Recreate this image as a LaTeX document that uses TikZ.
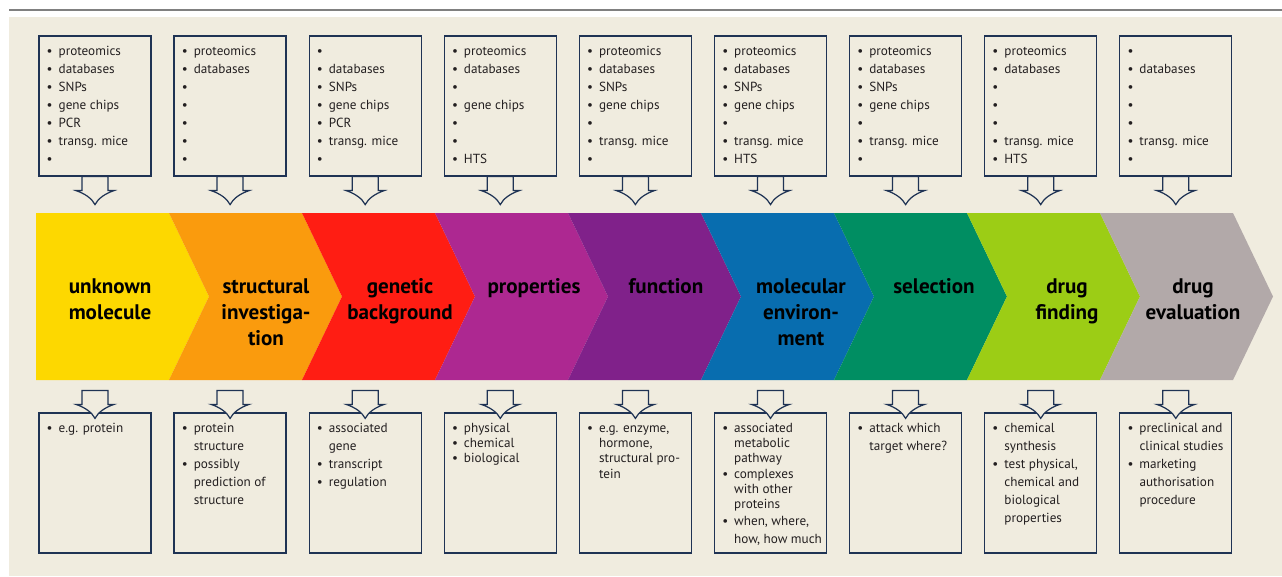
\documentclass[tikz,border=0pt]{standalone}
\usepackage{fontspec}
\setmainfont{PT Sans}
\usetikzlibrary{calc}
\definecolor{bgbeige}{HTML}{F0ECDF}
\definecolor{boxline}{HTML}{1F3354}
\definecolor{textgray}{HTML}{231F20}
\definecolor{cyellow}{HTML}{FDD800}
\definecolor{corange}{HTML}{FA9B0D}
\definecolor{cred}{HTML}{FF1D13}
\definecolor{cmagenta}{HTML}{AD2891}
\definecolor{cpurple}{HTML}{80218A}
\definecolor{cblue}{HTML}{086DAF}
\definecolor{cgreen}{HTML}{008E62}
\definecolor{clime}{HTML}{9CCD15}
\definecolor{cgray}{HTML}{B2A9A9}
\newcommand\bu{\makebox[6.8pt][l]{\textbullet}}
\newcommand\ind{\hspace*{6.8pt}}
\begin{document}
\begin{tikzpicture}[x=0.02cm,y=-0.02cm,
  infobox/.style={draw=boxline,line width=0.7pt,minimum width=2.24cm,minimum height=2.8cm,inner sep=0},
  infotext/.style={anchor=north west,inner sep=0,align=left,text=textgray,font=\fontsize{7.5}{10.2}\selectfont},
  tighttext/.style={infotext,font=\fontsize{7.5}{8.6}\selectfont},
  steptext/.style={anchor=north,inner sep=0,align=center,text=black,font=\fontsize{12}{14.8}\selectfont\bfseries},
  blockarrow/.pic={\filldraw[draw=boxline,fill=bgbeige,line width=0.7pt] (-13,0) -- (-13,14) -- (-19,14) .. controls (-10,17) and (-3,22) .. (0,28) .. controls (3,22) and (10,17) .. (19,14) -- (13,14) -- (13,0) -- cycle;}]
 \useasboundingbox (0,0) rectangle (1282,576);
 \draw[line width=1.1pt,color=gray] (9,10) -- (1282,10);
 \fill[bgbeige] (9,17) rectangle (1282,576);
 %
 % chevrons
 \fill[cyellow] (36,213) -- (169,213) -- (209,296.5) -- (169,380) -- (36,380) -- cycle;
 \foreach \c [count=\i] in {corange,cred,cmagenta,cpurple,cblue,cgreen,clime,cgray}
   \fill[\c] ({36+133*\i},213) -- ++(133,0) -- ++(40,83.5) -- ++(-40,83.5) -- ++(-133,0) -- ++(40,-83.5) -- cycle;
 %
 \node[steptext] (s1) at (110,275) {\strut unknown\\molecule};
 \node[steptext] (s2) at (266,275) {\strut structural\\investiga-\\tion};
 \node[steptext] (s3) at (400,275) {\strut genetic\\background};
 \node[steptext] (s4) at (534,275) {\strut properties};
 \node[steptext] (s5) at (666,275) {\strut function};
 \node[steptext] (s6) at (801,275) {\strut molecular\\environ-\\ment};
 \node[steptext] (s7) at (934,275) {\strut selection};
 \node[steptext] (s8) at (1067,275) {\strut drug\\finding};
 \node[steptext] (s9) at (1193,275) {\strut drug\\evaluation};
 %
 % upper boxes
 \foreach \i in {1,...,9} {
   \node[infobox] (tb\i) at ({95+135.1*(\i-1)},106) {};
   \node[infobox] (bb\i) at ({95+135.1*(\i-1)},483) {};
 }
 \node[infotext] (tt1) at ($(tb1.north west)+(8,7.5)$) {\strut\bu proteomics\\\bu databases\\\bu SNPs\\\bu gene chips\\\bu PCR\\\bu transg. mice\\\bu};
 \node[infotext] (tt2) at ($(tb2.north west)+(8,7.5)$) {\strut\bu proteomics\\\bu databases\\\bu\\\bu\\\bu\\\bu\\\bu};
 \node[infotext] (tt3) at ($(tb3.north west)+(8,7.5)$) {\strut\bu\\\bu databases\\\bu SNPs\\\bu gene chips\\\bu PCR\\\bu transg. mice\\\bu};
 \node[infotext] (tt4) at ($(tb4.north west)+(8,7.5)$) {\strut\bu proteomics\\\bu databases\\\bu\\\bu gene chips\\\bu\\\bu\\\bu HTS};
 \node[infotext] (tt5) at ($(tb5.north west)+(8,7.5)$) {\strut\bu proteomics\\\bu databases\\\bu SNPs\\\bu gene chips\\\bu\\\bu transg. mice\\\bu};
 \node[infotext] (tt6) at ($(tb6.north west)+(8,7.5)$) {\strut\bu proteomics\\\bu databases\\\bu SNPs\\\bu gene chips\\\bu\\\bu transg. mice\\\bu HTS};
 \node[infotext] (tt7) at ($(tb7.north west)+(8,7.5)$) {\strut\bu proteomics\\\bu databases\\\bu SNPs\\\bu gene chips\\\bu\\\bu transg. mice\\\bu};
 \node[infotext] (tt8) at ($(tb8.north west)+(8,7.5)$) {\strut\bu proteomics\\\bu databases\\\bu\\\bu\\\bu\\\bu transg. mice\\\bu HTS};
 \node[infotext] (tt9) at ($(tb9.north west)+(8,7.5)$) {\strut\bu\\\bu databases\\\bu\\\bu\\\bu\\\bu transg. mice\\\bu};
 %
 % lower boxes
 \node[infotext] (bt1) at ($(bb1.north west)+(8,7.5)$) {\strut\bu e.g. protein};
 \node[infotext] (bt2) at ($(bb2.north west)+(8,7.5)$) {\strut\bu protein\\\ind structure\\\bu possibly\\\ind prediction of\\\ind structure};
 \node[infotext] (bt3) at ($(bb3.north west)+(8,7.5)$) {\strut\bu associated\\\ind gene\\\bu transcript\\\bu regulation};
 \node[tighttext] (bt4) at ($(bb4.north west)+(8,9.4)$) {\strut\bu physical\\\bu chemical\\\bu biological};
 \node[tighttext] (bt5) at ($(bb5.north west)+(8,9.4)$) {\strut\bu e.g. enzyme,\\\ind hormone,\\\ind structural pro-\\\ind tein};
 \node[tighttext] (bt6) at ($(bb6.north west)+(8,9.4)$) {\strut\bu associated\\\ind metabolic\\\ind pathway\\\bu complexes\\\ind with other\\\ind proteins\\[1.3pt]\bu when, where,\\[1.3pt]\ind how, how much};
 \node[infotext] (bt7) at ($(bb7.north west)+(8,7.5)$) {\strut\bu attack which\\\ind target where?};
 \node[infotext] (bt8) at ($(bb8.north west)+(8,7.5)$) {\strut\bu chemical\\\ind synthesis\\\bu test physical,\\\ind chemical and\\\ind biological\\\ind properties};
 \node[infotext] (bt9) at ($(bb9.north west)+(8,7.5)$) {\strut\bu preclinical and\\\ind clinical studies\\\bu marketing\\\ind authorisation\\\ind procedure};
 %
 % arrows
 \foreach \i in {1,...,9} {
   \pic at (tb\i.south) {blockarrow};
   \pic at ($(bb\i.north)+(0,-22)$) {blockarrow};
 }
\end{tikzpicture}
\end{document}
